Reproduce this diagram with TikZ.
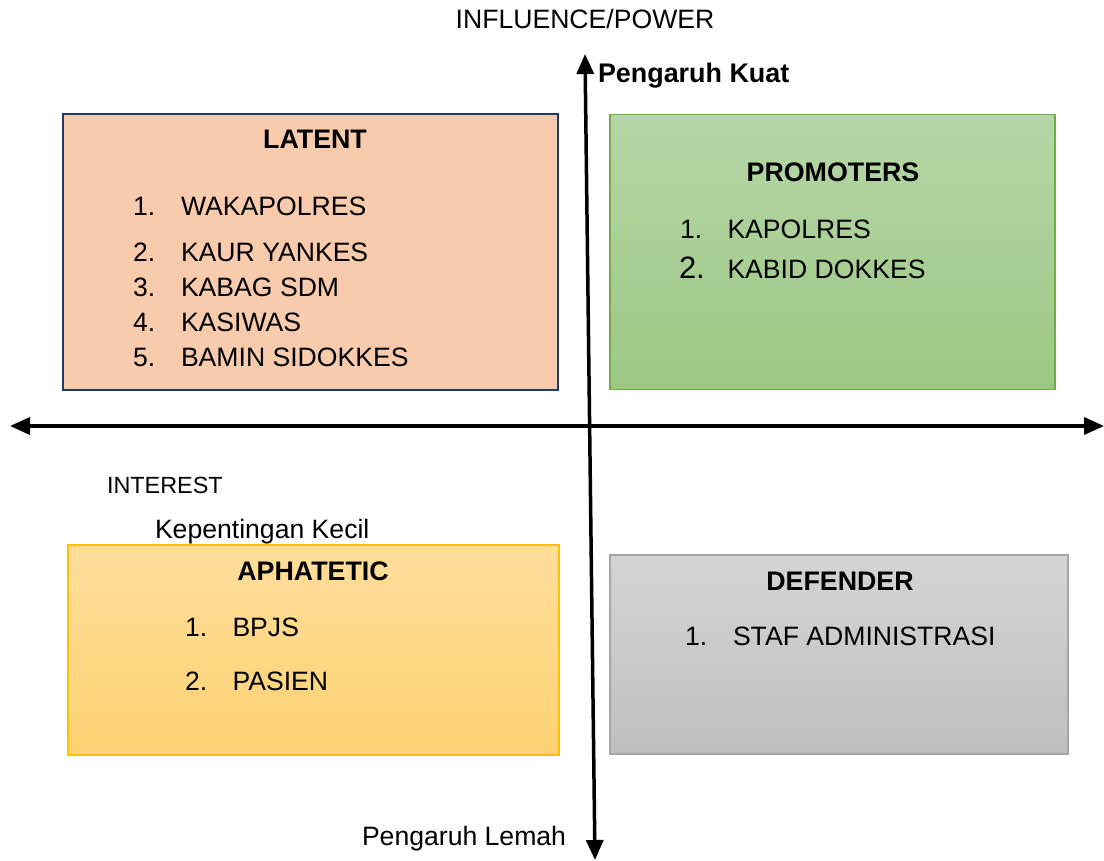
\documentclass[tikz,border=0pt]{standalone}
\usepackage{fontspec}
\setmainfont{Liberation Sans}
\usetikzlibrary{arrows.meta}
\definecolor{latfill}{HTML}{F8CBAD}
\definecolor{latdraw}{HTML}{1F3864}
\definecolor{protop}{HTML}{B5D6A7}
\definecolor{probot}{HTML}{9DC883}
\definecolor{prodraw}{HTML}{70AD47}
\definecolor{aptop}{HTML}{FFDD9C}
\definecolor{apbot}{HTML}{FED271}
\definecolor{apdraw}{HTML}{FFC000}
\definecolor{detop}{HTML}{D4D4D4}
\definecolor{debot}{HTML}{BFBFBF}
\definecolor{dedraw}{HTML}{A5A5A5}
\tikzset{
  quad/.style={rectangle, inner sep=0pt, outer sep=0pt},
  txt/.style={inner sep=0pt, outer sep=0pt, anchor=base west, font=\fontsize{26.6}{30}\selectfont},
  ttl/.style={inner sep=0pt, outer sep=0pt, anchor=base, font=\fontsize{26.8}{30}\selectfont\bfseries},
  axis/.style={line width=3.5pt, -{Triangle[length=20pt,width=17pt]}},
}
\begin{document}
\begin{tikzpicture}[x=1pt,y=-1pt]
\useasboundingbox[fill=white] (0,0) rectangle (1104,861);
% boxes
\node (latent) [quad, fill=latfill, draw=latdraw, line width=2pt, minimum width=495pt, minimum height=276pt] at (310.5,252) {};
\node (promo) [quad, top color=protop, bottom color=probot, draw=prodraw, line width=1.2pt, minimum width=445pt, minimum height=275pt] at (832.5,251.7) {};
\node (apha) [quad, top color=aptop, bottom color=apbot, draw=apdraw, line width=1.2pt, minimum width=491pt, minimum height=210pt] at (313.5,650) {};
\node (defe) [quad, top color=detop, bottom color=debot, draw=dedraw, line width=1.2pt, minimum width=458pt, minimum height=199pt] at (839,654.5) {};
% axes
\coordinate (hl) at (10,426);
\coordinate (hr) at (1104,426);
\coordinate (hm) at (557,426);
\coordinate (vt) at (585,54);
\coordinate (vb) at (595,860);
\coordinate (vm) at (590,457);
\draw[axis] (hm) -- (hl);
\draw[axis] (hm) -- (hr);
\draw[axis] (vm) -- (vt);
\draw[axis] (vm) -- (vb);
% axis labels
\node (infl) [inner sep=0pt, anchor=base, font=\fontsize{26.6}{30}\selectfont] at (585,29) {INFLUENCE/POWER};
\node (kuat) [txt, font=\fontsize{26.9}{30}\selectfont\bfseries] at (598,83) {Pengaruh Kuat};
\node (inter) [txt, font=\fontsize{23.4}{28}\selectfont] at (107,493) {INTEREST};
\node (kecil) [txt] at (155,538) {Kepentingan Kecil};
\node (lemah) [txt] at (362,845) {Pengaruh Lemah};
% LATENT
\node (latT) [ttl] at (315,149) {LATENT};
\node (l1n) [txt] at (133,216) {1.};
\node (l1) [txt] at (181,216) {WAKAPOLRES};
\node (l2n) [txt] at (133,261.5) {2.};
\node (l2) [txt] at (181,261.5) {KAUR YANKES};
\node (l3n) [txt] at (133,296.5) {3.};
\node (l3) [txt] at (181,296.5) {KABAG SDM};
\node (l4n) [txt] at (133,331.5) {4.};
\node (l4) [txt] at (181,331.5) {KASIWAS};
\node (l5n) [txt] at (133,366.5) {5.};
\node (l5) [txt] at (181,366.5) {BAMIN SIDOKKES};
% PROMOTERS
\node (proT) [ttl] at (833,181.5) {PROMOTERS};
\node (p1n) [txt] at (680,238.5) {1.};
\node (p1) [txt] at (727.5,238.5) {KAPOLRES};
\node (p2n) [txt, font=\fontsize{31}{34}\selectfont] at (679,278.5) {2.};
\node (p2) [txt] at (727.5,278.5) {KABID DOKKES};
% APHATETIC
\node (apT) [ttl] at (313,580) {APHATETIC};
\node (a1n) [txt] at (185,636.5) {1.};
\node (a1) [txt] at (232.5,636.5) {BPJS};
\node (a2n) [txt] at (185,690) {2.};
\node (a2) [txt] at (232.5,690) {PASIEN};
% DEFENDER
\node (deT) [ttl] at (840,590) {DEFENDER};
\node (d1n) [txt] at (685,645) {1.};
\node (d1) [txt] at (733,645) {STAF ADMINISTRASI};
\end{tikzpicture}
\end{document}
